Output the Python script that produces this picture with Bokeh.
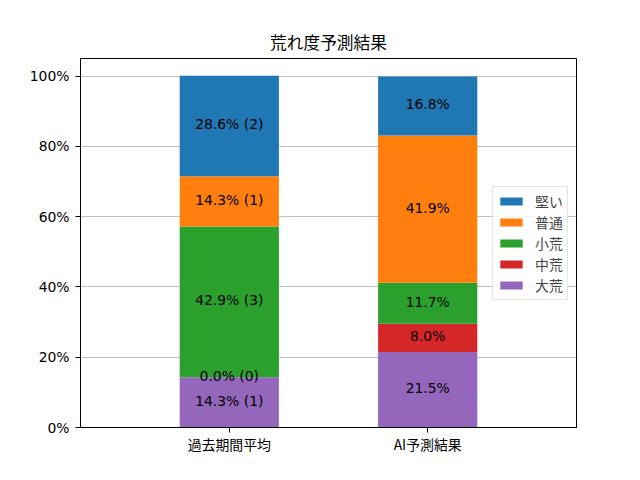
from bokeh.plotting import figure
from bokeh.models import ColumnDataSource, Range1d, FixedTicker, Legend, LegendItem
from bokeh.core.properties import value
from bokeh.embed import file_html
from bokeh.resources import INLINE

categories = ["過去期間平均", "AI予測結果"]
classes = ["大荒", "中荒", "小荒", "普通", "堅い"]  # stack order, bottom to top
colors = ["#9467bd", "#d62728", "#2ca02c", "#ff7f0e", "#1f77b4"]
past_pct = [14.3, 0.0, 42.9, 14.3, 28.6]
past_counts = [1, 0, 3, 1, 2]
ai_pct = [21.5, 8.0, 11.7, 41.9, 16.8]
y_ticks = [0, 20, 40, 60, 80, 100]
y_tick_labels = ["0%", "20%", "40%", "60%", "80%", "100%"]
title = "荒れ度予測結果"

FONT = "Noto Sans CJK JP"
LATIN = "DejaVu Sans"

p = figure(width=640, height=480, output_backend="svg", toolbar_location=None,
           x_range=Range1d(-0.75, 1.75), y_range=Range1d(0, 105),
           min_border_left=80, min_border_right=64, min_border_top=58, min_border_bottom=53)

p.title.text = title
p.title.align = "center"
p.title.text_font = FONT
p.title.text_font_size = "16.7px"
p.title.text_font_style = "normal"
p.title.text_color = "black"

series = [past_pct, ai_pct]
renderers = {}
lx, ly, lt = [], [], []
for ci, cls in enumerate(classes):
    xs, bottoms, tops = [], [], []
    for bi, vals in enumerate(series):
        b = sum(vals[:ci])
        t = b + vals[ci]
        xs.append(bi)
        bottoms.append(b)
        tops.append(t)
        lx.append(bi)
        ly.append((b + t) / 2)
        if bi == 0:
            lt.append(f"{vals[ci]:.1f}% ({past_counts[ci]})")
        else:
            lt.append(f"{vals[ci]:.1f}%")
    src = ColumnDataSource(dict(x=xs, bottom=bottoms, top=tops))
    r = p.vbar(x="x", bottom="bottom", top="top", width=0.5, source=src,
               fill_color=colors[ci], line_color=None)
    renderers[cls] = r

lsrc = ColumnDataSource(dict(x=lx, y=ly, text=lt))
p.text(x="x", y="y", text="text", source=lsrc, text_align="center", text_baseline="middle",
       y_offset=-1.5, text_font=value(LATIN), text_font_size="13.9px", text_color="black")

items = [LegendItem(label=cls, renderers=[renderers[cls]]) for cls in reversed(classes)]
legend = Legend(items=items, location=(412, 127), label_text_font=FONT,
                label_text_font_size="13.9px", glyph_width=28, glyph_height=10,
                label_height=14, spacing=1, padding=4, margin=0, label_standoff=10,
                border_line_color="#cccccc", border_line_width=1,
                background_fill_alpha=0.8)
p.add_layout(legend, "center")

p.xaxis.ticker = FixedTicker(ticks=[0, 1])
p.xaxis.major_label_overrides = {0: categories[0], 1: categories[1]}
p.yaxis.ticker = FixedTicker(ticks=y_ticks)
p.yaxis.major_label_overrides = dict(zip(y_ticks, y_tick_labels))
for ax in (p.xaxis, p.yaxis):
    ax.major_label_text_font_size = "13.9px"
    ax.major_label_text_color = "black"
    ax.axis_line_color = "black"
    ax.major_tick_line_color = "black"
    ax.major_tick_out = 5
    ax.major_tick_in = 0
    ax.minor_tick_line_color = None
p.xaxis.major_label_text_font = FONT
p.yaxis.major_label_text_font = LATIN
p.xaxis.major_label_standoff = 1
p.yaxis.major_label_standoff = 6

p.xgrid.grid_line_color = None
p.ygrid.grid_line_color = "#b0b0b0"
p.ygrid.grid_line_width = 0.8
p.outline_line_color = "black"
p.outline_line_alpha = 1

open("out.html", "w").write(file_html(p, INLINE))
